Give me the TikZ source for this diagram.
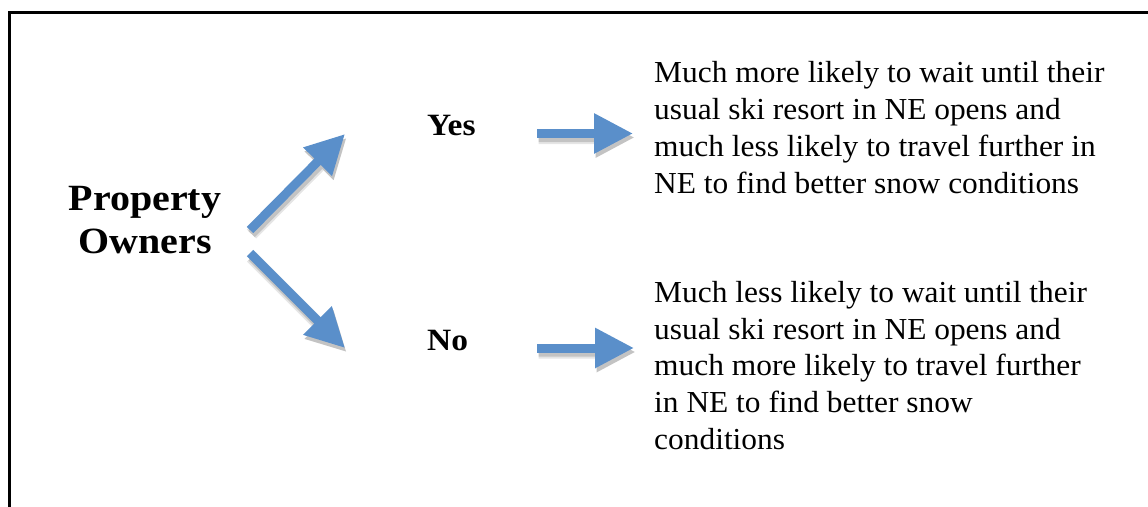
\documentclass[tikz,border=0pt]{standalone}
\usepackage{fontspec}
\setmainfont{Liberation Serif}
\newfontfamily\bodyfont[FakeStretch=1.03]{Liberation Serif}
\newfontfamily\lblfont[FakeStretch=1.08]{Liberation Serif}
\usetikzlibrary{arrows.meta}
\definecolor{arrowblue}{RGB}{90,143,202}
\tikzset{
  bluearrow/.style={draw=arrowblue, line width=9pt, line cap=butt,
    -{Triangle[length=39pt,width=38pt,fill=arrowblue]}},
  shadowarrow/.style={draw=black, line width=#1, line cap=butt,
    -{Triangle[length=39pt,width=38pt,fill=black]}},
  biglbl/.style={inner sep=0pt, align=center, anchor=base,
    font=\lblfont\bfseries\fontsize{37}{43}\selectfont},
  lbl/.style={inner sep=0pt, anchor=base west,
    font=\lblfont\bfseries\fontsize{31}{37}\selectfont},
  bodytxt/.style={inner sep=0pt, align=left, anchor=base west,
    font=\bodyfont\fontsize{30.5}{36.8}\selectfont},
  frame/.style={draw=black, line width=3pt}
}
\begin{document}
\begin{tikzpicture}[x=1pt,y=-1pt]
\useasboundingbox (0,0) rectangle (1148,506);
\clip (0,0) rectangle (1148,506);
\draw[frame] (9.5,530) |- (1170,12.5);

% nodes (base anchor = baseline of the last line)
\node[biglbl] (owners) at (145,253) {Property\\Owners};
\node[lbl] (yes) at (427,135) {Yes};
\node[lbl] (no) at (427,350) {No};
\node[bodytxt] (yestxt) at (654,193) {Much more likely to wait until their\\usual ski resort in NE opens and\\much less likely to travel further in\\NE to find better snow conditions};
\node[bodytxt] (notxt) at (654,449.5) {Much less likely to wait until their\\usual ski resort in NE opens and\\much more likely to travel further\\in NE to find better snow\\conditions};

% arrow end points
\coordinate (upS) at (250,230);
\coordinate (upE) at (345,134);
\coordinate (dnS) at (250,253);
\coordinate (dnE) at (345,348);
\coordinate (yesS) at (537,133.5);
\coordinate (yesE) at (633,133.5);
\coordinate (noS) at (537,348);
\coordinate (noE) at (634,348);

% soft shadows
\begin{scope}[transform canvas={shift={(1.5pt,-4pt)}}]
  \begin{scope}[transparency group, opacity=0.10]
    \draw[shadowarrow=13pt] (upS) -- (upE);
    \draw[shadowarrow=13pt] (dnS) -- (dnE);
    \draw[shadowarrow=13pt] (yesS) -- (yesE);
    \draw[shadowarrow=13pt] (noS) -- (noE);
  \end{scope}
  \begin{scope}[transparency group, opacity=0.15]
    \draw[shadowarrow=9pt] (upS) -- (upE);
    \draw[shadowarrow=9pt] (dnS) -- (dnE);
    \draw[shadowarrow=9pt] (yesS) -- (yesE);
    \draw[shadowarrow=9pt] (noS) -- (noE);
  \end{scope}
\end{scope}

% arrows
\draw[bluearrow] (upS) -- (upE);
\draw[bluearrow] (dnS) -- (dnE);
\draw[bluearrow] (yesS) -- (yesE);
\draw[bluearrow] (noS) -- (noE);
\end{tikzpicture}
\end{document}
